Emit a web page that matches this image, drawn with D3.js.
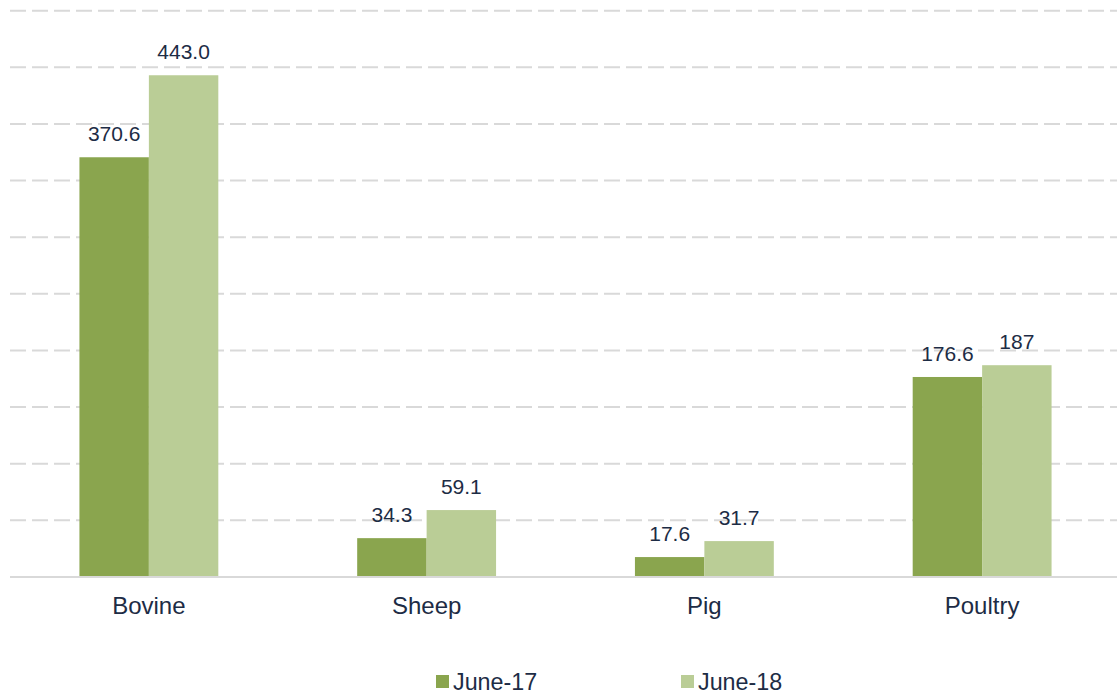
<!DOCTYPE html>
<html>
<head>
<meta charset="utf-8">
<script src="https://cdn.jsdelivr.net/npm/d3@7"></script>
<style>
  body { margin: 0; background: #fff; }
  svg { display: block; font-family: "Liberation Sans", Arial, sans-serif; }
</style>
</head>
<body>
<svg width="1117" height="700"></svg>
<script>
// categories and series
const categories = ["Bovine", "Sheep", "Pig", "Poultry"];
const seriesNames = ["June-17", "June-18"];
const june17 = [370.6, 34.3, 17.6, 176.6];
const june18 = [443.0, 59.1, 31.7, 187];
const labels17 = ["370.6", "34.3", "17.6", "176.6"];
const labels18 = ["443.0", "59.1", "31.7", "187"];
const gridTicks = [50, 100, 150, 200, 250, 300, 350, 400, 450, 500];

const colors = ["#8aa54e", "#bacd96"];
const textColor = "#1d2c45";

const width = 1117, height = 700;
const svg = d3.select("svg");

// scales
const x = d3.scaleBand()
    .domain(categories)
    .range([10, 1121])
    .paddingInner(0.5)
    .paddingOuter(0.25);

const xSub = d3.scaleBand()
    .domain(seriesNames)
    .range([0, x.bandwidth()]);

const y = d3.scaleLinear()
    .domain([0, 500])
    .range([577, 10.7]);

// dashed gridlines
svg.append("g")
    .selectAll("line")
    .data(gridTicks)
    .enter().append("line")
    .attr("x1", 10)
    .attr("x2", width)
    .attr("y1", d => y(d))
    .attr("y2", d => y(d))
    .attr("stroke", "#d9d9d9")
    .attr("stroke-width", 2)
    .attr("stroke-dasharray", "16,6");

// build rows for the bars
const rows = [];
categories.forEach((c, i) => {
    rows.push({ cat: c, series: seriesNames[0], value: june17[i], label: labels17[i], color: colors[0] });
    rows.push({ cat: c, series: seriesNames[1], value: june18[i], label: labels18[i], color: colors[1] });
});

// bars
svg.append("g")
    .selectAll("rect")
    .data(rows)
    .enter().append("rect")
    .attr("x", d => x(d.cat) + xSub(d.series))
    .attr("y", d => y(d.value))
    .attr("width", xSub.bandwidth())
    .attr("height", d => y(0) - y(d.value))
    .attr("fill", d => d.color);

// data labels
svg.append("g")
    .selectAll("text")
    .data(rows)
    .enter().append("text")
    .attr("x", d => x(d.cat) + xSub(d.series) + xSub.bandwidth() / 2)
    .attr("y", d => y(d.value) - 16)
    .attr("text-anchor", "middle")
    .attr("font-size", 21)
    .attr("fill", textColor)
    .text(d => d.label);

// baseline
svg.append("line")
    .attr("x1", 10)
    .attr("x2", width)
    .attr("y1", y(0))
    .attr("y2", y(0))
    .attr("stroke", "#d9d9d9")
    .attr("stroke-width", 2);

// category labels
svg.append("g")
    .selectAll("text")
    .data(categories)
    .enter().append("text")
    .attr("x", d => x(d) + x.bandwidth() / 2)
    .attr("y", 614)
    .attr("text-anchor", "middle")
    .attr("font-size", 24)
    .attr("fill", textColor)
    .text(d => d);

// legend
const legendX = [436, 681];
const legend = svg.append("g")
    .selectAll("g")
    .data(seriesNames)
    .enter().append("g")
    .attr("transform", (d, i) => `translate(${legendX[i]},0)`);

legend.append("rect")
    .attr("x", 0)
    .attr("y", 675)
    .attr("width", 13)
    .attr("height", 13)
    .attr("fill", (d, i) => colors[i]);

legend.append("text")
    .attr("x", 17)
    .attr("y", 690)
    .attr("font-size", 23.3)
    .attr("fill", textColor)
    .text(d => d);
</script>
</body>
</html>
